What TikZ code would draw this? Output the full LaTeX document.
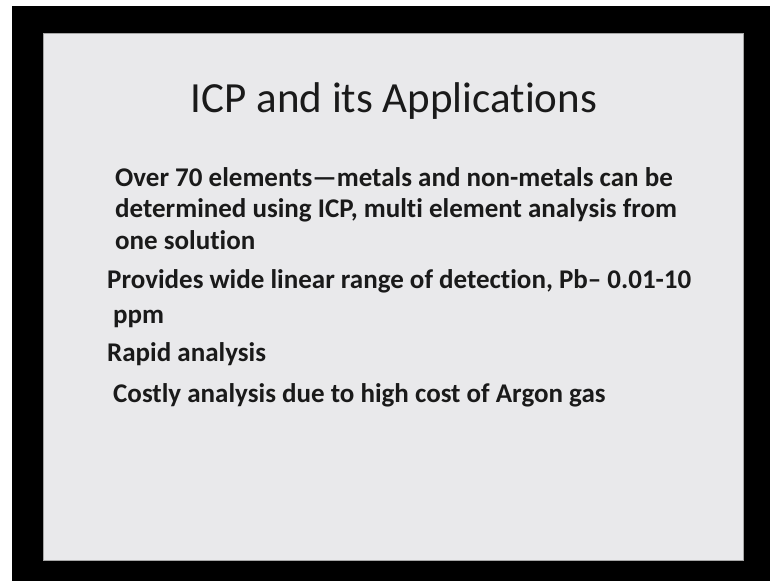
\documentclass[tikz,border=0pt]{standalone}
\usepackage{fontspec}
\setmainfont[Ligatures=NoCommon]{Carlito}
\definecolor{slidebg}{HTML}{E9E9EB}
\definecolor{txt}{HTML}{1A1A1A}
\begin{document}
\begin{tikzpicture}[x=1pt,y=-1pt,
  body/.style={anchor=base west,inner sep=0pt,text=txt,font=\fontsize{27}{32}\selectfont\bfseries},
  ttl/.style={anchor=base,inner sep=0pt,text=txt,font=\fontsize{43}{50}\selectfont}]
\useasboundingbox (0,0) rectangle (770,581);
\fill[white] (0,0) rectangle (770,581);
\fill[black] (12,6) rectangle (770,581);
\fill[slidebg,draw=gray!70,line width=0.8pt] (43,33) rectangle (743,560);
\node[ttl] (title) at (394,112) {ICP and its Applications};
\node[body] (l1) at (115,186) {Over 70 elements—metals and non-metals can be};
\node[body] (l2) at (115,217) {determined using ICP, multi element analysis from};
\node[body] (l3) at (115,249) {one solution};
\node[body] (l4) at (107,288) {Provides wide linear range of detection, Pb– 0.01-10};
\node[body] (l5) at (113,323) {ppm};
\node[body] (l6) at (107,361) {Rapid analysis};
\node[body] (l7) at (113,402) {Costly analysis due to high cost of Argon gas};
\end{tikzpicture}
\end{document}
